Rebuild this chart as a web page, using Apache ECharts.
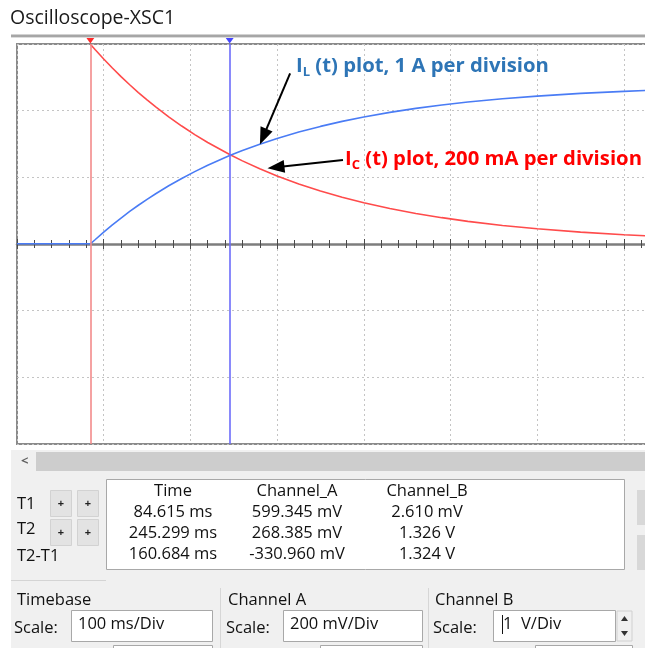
<!DOCTYPE html>
<html><head><meta charset="utf-8">
<script src="https://cdn.jsdelivr.net/npm/echarts@6/dist/echarts.min.js"></script>
<style>html,body{margin:0;padding:0;background:#fff}#c{width:645px;height:648px}</style>
</head><body><div id="c"></div>
<script>
// ---- Channel A (red, I_C) : time in ms, value in mV ----
const icTimeMs     = [84.615, 90, 100, 110, 120, 130, 140, 150, 160, 175, 190, 205, 220, 245.299, 260, 280, 300, 325, 350, 375, 400, 430, 460, 490, 520, 560, 600, 650, 700, 750, 800];
const icMilliVolts = [599.3, 583.4, 555.0, 527.9, 502.1, 477.7, 454.4, 432.2, 411.1, 381.4, 353.9, 328.3, 304.6, 268.4, 249.4, 225.6, 204.2, 180.2, 159.0, 140.3, 123.8, 106.6, 91.7, 79.0, 68.0, 55.6, 45.6, 35.5, 27.6, 21.5, 16.8];
// ---- Channel B (blue, I_L) : time in ms, value in V ----
const ilTimeMs = [0, 84.615, 90, 100, 110, 120, 130, 140, 150, 160, 175, 190, 205, 220, 245.299, 260, 280, 300, 325, 350, 375, 400, 430, 460, 490, 520, 560, 600, 650, 700, 750, 800];
const ilVolts  = [0.003, 0.003, 0.064, 0.178, 0.286, 0.389, 0.488, 0.581, 0.670, 0.754, 0.873, 0.983, 1.086, 1.181, 1.326, 1.402, 1.497, 1.583, 1.679, 1.764, 1.839, 1.905, 1.974, 2.034, 2.085, 2.129, 2.178, 2.218, 2.259, 2.290, 2.315, 2.334];
// ---- cursors ----
const cursorT1 = 84.615;
const cursorT2 = 245.299;
// ---- annotation arrows (data coords) ----
const ilArrow = [[315, 2.56], [284, 1.61]];      // Channel B units (V)
const icArrow = [[376, 252], [298.7, 230]];      // Channel A units (mV)
// ---- readout table ----
const tableHeader    = ['Time', 'Channel_A', 'Channel_B'];
const rowLabels      = ['T1', 'T2', 'T2-T1'];
const timeColumn     = ['84.615 ms', '245.299 ms', '160.684 ms'];
const channelAColumn = ['599.345 mV', '268.385 mV', '-330.960 mV'];
const channelBColumn = ['2.610 mV', '1.326 V', '1.324 V'];
const groupTitles    = ['Timebase', 'Channel A', 'Channel B'];
const scaleValues    = ['100 ms/Div', '200 mV/Div', '1  V/Div'];

const UI_FONT = '"Open Sans", "Noto Sans", sans-serif';
const chart = echarts.init(document.getElementById('c'), null, {renderer: 'canvas'});

function txt(text, x, y, opt) {
  opt = opt || {};
  return {
    type: 'text', z: 100, silent: true,
    style: {
      text: text, x: x, y: y,
      fill: opt.fill || '#111',
      font: (opt.weight || 'normal') + ' ' + (opt.size || 16.5) + 'px ' + (opt.family || UI_FONT),
      textAlign: opt.align || 'left',
      textVerticalAlign: 'middle'
    }
  };
}
function rect(x, y, w, h, fill, stroke, lw) {
  return {type: 'rect', z: 90, silent: true, shape: {x: x, y: y, width: w, height: h},
    style: {fill: fill, stroke: stroke || null, lineWidth: lw || 1}};
}
function line(x1, y1, x2, y2, color, w) {
  return {type: 'line', z: 95, silent: true, shape: {x1: x1, y1: y1, x2: x2, y2: y2},
    style: {stroke: color, lineWidth: w || 1}};
}

const graphics = [];
// window title + separator
graphics.push(txt('Oscilloscope-XSC1', 10, 18, {size: 19.5, fill: '#1a1a1a'}));
graphics.push(rect(11, 34.5, 634, 2.5, '#a6a6a6'));
graphics.push(line(11, 37.5, 645, 37.5, '#dcdcdc', 1));
// bottom panel
graphics.push(rect(11, 450, 634, 198, '#f0f0f0'));
graphics.push(rect(36, 452, 609, 19, '#cdcdcd'));
graphics.push(txt('<', 21, 461, {size: 13, weight: 'bold', fill: '#606060'}));
// readout table
graphics.push(rect(106.5, 479.5, 518, 90, '#ffffff', '#a8a8a8', 1));
graphics.push(rect(637, 490, 8, 35, '#d8d8d8'));
graphics.push(rect(637, 535, 8, 35, '#d8d8d8'));
graphics.push(line(11, 580.5, 106, 580.5, '#d4d4d4', 1));
// cursor buttons
[[50, 490, 27], [77, 490, 27], [50, 519, 27], [77, 519, 27]].forEach(function (b) {
  graphics.push(rect(b[0] + 0.5, b[1] + 0.5, 21, b[2] - 1, '#e3e3e3', '#d2d2d2', 1));
  graphics.push(txt('+', b[0] + 11, b[1] + b[2] / 2, {size: 11, weight: 'bold', align: 'center', fill: '#222'}));
});
const rowLabelY = [504, 529, 556];
rowLabels.forEach(function (l, i) { graphics.push(txt(l, 17, rowLabelY[i])); });
const colX = [173, 297, 427];
tableHeader.forEach(function (h, i) { graphics.push(txt(h, colX[i], 491, {align: 'center'})); });
const rowY = [512, 533, 554];
[timeColumn, channelAColumn, channelBColumn].forEach(function (col, ci) {
  col.forEach(function (v, ri) { graphics.push(txt(v, colX[ci], rowY[ri], {align: 'center'})); });
});
// control groups
const groupX = [17, 228, 435];
const scaleLabelX = [14, 226, 433];
const boxes = [[71, 212], [283, 422], [493, 615]];
graphics.push(line(220.5, 588, 220.5, 648, '#d6d6d6', 1));
graphics.push(line(428.5, 588, 428.5, 648, '#d6d6d6', 1));
groupTitles.forEach(function (g, i) {
  graphics.push(txt(g, groupX[i], 600));
  graphics.push(txt('Scale:', scaleLabelX[i], 628));
  graphics.push(rect(boxes[i][0] + 0.5, 610.5, boxes[i][1] - boxes[i][0], 31, '#ffffff', '#a8a8a8', 1));
  graphics.push(txt(scaleValues[i], boxes[i][0] + (i === 2 ? 10 : 7), 624));
});
graphics.push(line(502.5, 615, 502.5, 634, '#111', 1));
// partial lower boxes
graphics.push(rect(113.5, 645.5, 99, 10, '#ffffff', '#a8a8a8', 1));
graphics.push(rect(320.5, 645.5, 102, 10, '#ffffff', '#a8a8a8', 1));
graphics.push(rect(535.5, 645.5, 97, 10, '#ffffff', '#a8a8a8', 1));
// spinner
graphics.push(rect(617, 611, 15, 30, '#f0f0f0', '#d0d0d0', 1));
graphics.push({type: 'polygon', z: 100, silent: true, shape: {points: [[621, 621], [628, 621], [624.5, 616]]}, style: {fill: '#333'}});
graphics.push({type: 'polygon', z: 100, silent: true, shape: {points: [[621, 631], [628, 631], [624.5, 636]]}, style: {fill: '#333'}});
// annotations
const annFont = '"Open Sans", Lato, sans-serif';
function ann(x, y, sub, rest, color) {
  return {
    type: 'text', z: 100, silent: true,
    style: {
      x: x, y: y, textVerticalAlign: 'middle',
      text: '{b|I}{s|' + sub + '}{b|' + rest + '}',
      rich: {
        b: {fontFamily: annFont, fontWeight: 'bold', fontSize: 20.3, fill: color, lineHeight: 25},
        s: {fontFamily: annFont, fontWeight: 'bold', fontSize: 13, fill: color, lineHeight: 18, verticalAlign: 'bottom'}
      }
    }
  };
}
graphics.push(ann(296, 66, 'L', ' (t) plot, 1 A per division', '#2e75b6'));
graphics.push(ann(345, 159, 'C', ' (t) plot, 200 mA per division', '#ff0000'));

const TICK_COLOR = '#4a4a4a';
const option = {
  animation: false,
  backgroundColor: '#ffffff',
  grid: {left: 17, top: 44, width: 867, height: 400, show: true, backgroundColor: '#ffffff',
         borderColor: '#8a8a8a', borderWidth: 2, containLabel: false, outerBoundsMode: 'none'},
  xAxis: [
    { // centre line with downward ticks + grid verticals
      type: 'value', min: 0, max: 1000, interval: 100,
      axisLabel: {show: false},
      axisLine: {show: true, onZero: true, lineStyle: {color: '#7d7d7d', width: 2.5}},
      axisTick: {show: true, inside: false, length: 5, lineStyle: {color: TICK_COLOR, width: 1}},
      minorTick: {show: true, splitNumber: 5, length: 4, lineStyle: {color: TICK_COLOR, width: 1}},
      splitLine: {show: true, lineStyle: {color: '#c4c4c4', type: [2, 3], width: 1}}
    },
    { // upward ticks on the centre line (top axis shifted down to the middle)
      type: 'value', min: 0, max: 1000, interval: 100, position: 'top', offset: -200,
      axisLabel: {show: false},
      axisLine: {show: false, onZero: false},
      axisTick: {show: true, inside: false, length: 5, lineStyle: {color: TICK_COLOR, width: 1}},
      minorTick: {show: true, splitNumber: 5, length: 4, lineStyle: {color: TICK_COLOR, width: 1}},
      splitLine: {show: false}
    }
  ],
  yAxis: [
    {type: 'value', min: -600, max: 600, interval: 200, axisLabel: {show: false}, axisTick: {show: false},
     axisLine: {show: false}, splitLine: {show: true, lineStyle: {color: '#c4c4c4', type: [2, 3], width: 1}}},
    {type: 'value', min: -3, max: 3, interval: 1, axisLabel: {show: false}, axisTick: {show: false},
     axisLine: {show: false}, splitLine: {show: false}}
  ],
  series: [
    {
      name: 'Channel_A', type: 'line', xAxisIndex: 0, yAxisIndex: 0, showSymbol: false, symbol: 'none',
      z: 3, lineStyle: {color: '#ff4b4b', width: 1.6},
      data: icTimeMs.map(function (t, i) { return [t, icMilliVolts[i]]; }),
      markLine: {
        silent: true, symbol: 'none', animation: false, label: {show: false},
        data: [
          {xAxis: cursorT1, lineStyle: {color: '#f38b8b', width: 1.6, type: 'solid'}},
          {xAxis: cursorT2, lineStyle: {color: '#6c6cfa', width: 1.6, type: 'solid'}}
        ]
      },
      markPoint: {
        silent: true, animation: false, label: {show: false},
        data: [{coord: [cursorT1, 600], symbol: 'triangle', symbolRotate: 180, symbolSize: [10, 7],
                symbolOffset: [0, -4], itemStyle: {color: '#ff2a2a'}}]
      }
    },
    {
      name: 'Channel_B', type: 'line', xAxisIndex: 0, yAxisIndex: 1, showSymbol: false, symbol: 'none',
      z: 4, lineStyle: {color: '#4a7cf5', width: 1.6},
      data: ilTimeMs.map(function (t, i) { return [t, ilVolts[i]]; }),
      markLine: {
        silent: true, animation: false, label: {show: false},
        symbol: ['none', 'triangle'], symbolSize: [13, 17],
        lineStyle: {color: '#000', width: 2, type: 'solid'},
        data: [[{coord: ilArrow[0]}, {coord: ilArrow[1]}]]
      },
      markPoint: {
        silent: true, animation: false, label: {show: false},
        data: [{coord: [cursorT2, 3], symbol: 'triangle', symbolRotate: 180, symbolSize: [10, 7],
                symbolOffset: [0, -4], itemStyle: {color: '#4545ff'}}]
      }
    },
    {
      name: 'IC annotation', type: 'line', xAxisIndex: 0, yAxisIndex: 0, data: [], z: 5,
      markLine: {
        silent: true, animation: false, label: {show: false},
        symbol: ['none', 'triangle'], symbolSize: [13, 17],
        lineStyle: {color: '#000', width: 2, type: 'solid'},
        data: [[{coord: icArrow[0]}, {coord: icArrow[1]}]]
      }
    }
  ],
  graphic: {elements: graphics}
};
chart.setOption(option);
</script>
</body></html>
